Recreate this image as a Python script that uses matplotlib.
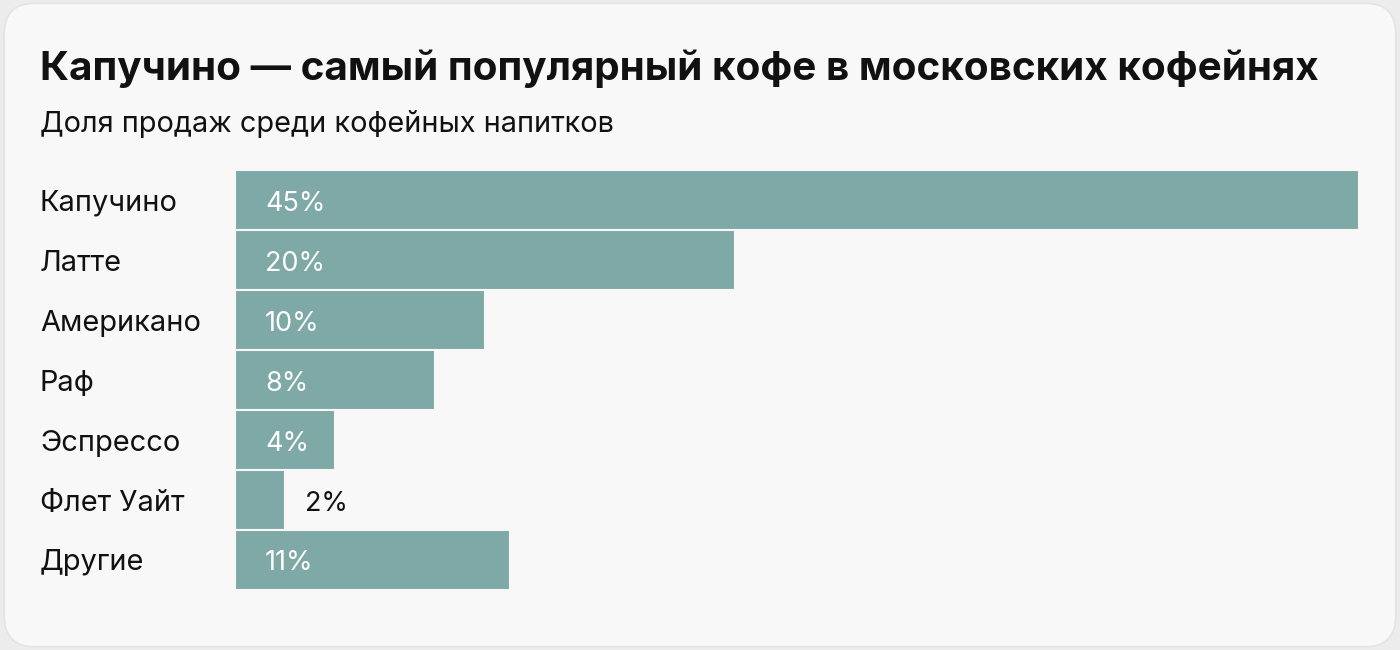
import matplotlib.pyplot as plt
from matplotlib.patches import FancyBboxPatch

drinks = ["Капучино", "Латте", "Американо", "Раф", "Эспрессо", "Флет Уайт", "Другие"]
shares = [45, 20, 10, 8, 4, 2, 11]

title = "Капучино — самый популярный кофе в московских кофейнях"
subtitle = "Доля продаж среди кофейных напитков"

BAR = "#7ea9a7"
BG = "#f8f8f8"

plt.rcParams["font.family"] = ["Inter", "DejaVu Sans"]

fig = plt.figure(figsize=(14, 6.5), dpi=100)
fig.patch.set_facecolor("#ececec")

card = FancyBboxPatch((0.003, 0.005), 0.994, 0.99,
                      boxstyle="round,pad=0,rounding_size=0.022",
                      transform=fig.transFigure, facecolor=BG,
                      edgecolor="#e4e4e4", linewidth=1.2, mutation_aspect=14 / 6.5,
                      zorder=-10)
fig.patches.append(card)

fig.text(40 / 1400, 1 - 80 / 650, title, fontsize=29.1, fontweight="bold",
         color="#111111", ha="left", va="baseline")
fig.text(40 / 1400, 1 - 132 / 650, subtitle, fontsize=20.8, color="#111111",
         ha="left", va="baseline")

ax = fig.add_axes([235 / 1400, 60 / 650, 1124 / 1400, 420 / 650])
ax.set_facecolor("none")
ypos = list(range(len(drinks)))
ax.barh(ypos, shares, height=1.0, color=BAR, edgecolor=BG, linewidth=1.5)
ax.set_xlim(0, 45)
ax.set_ylim(len(drinks) - 0.5, -0.5)

for y, name, v in zip(ypos, drinks, shares):
    ax.annotate(name, xy=(0, y), xycoords="data", xytext=(-195, -10.5),
                textcoords="offset pixels", ha="left", va="baseline",
                fontsize=20.9, color="#111111")
    if v >= 4:
        ax.annotate(f"{v}%", xy=(0, y), xytext=(30, -10.5), textcoords="offset pixels",
                    ha="left", va="baseline", fontsize=19.5, color="white")
    else:
        ax.annotate(f"{v}%", xy=(v, y), xytext=(20, -10.5), textcoords="offset pixels",
                    ha="left", va="baseline", fontsize=19.5, color="#111111")

ax.set_xticks([])
ax.set_yticks([])
for s in ax.spines.values():
    s.set_visible(False)

fig.savefig("out.png", dpi=100, facecolor=fig.get_facecolor())
